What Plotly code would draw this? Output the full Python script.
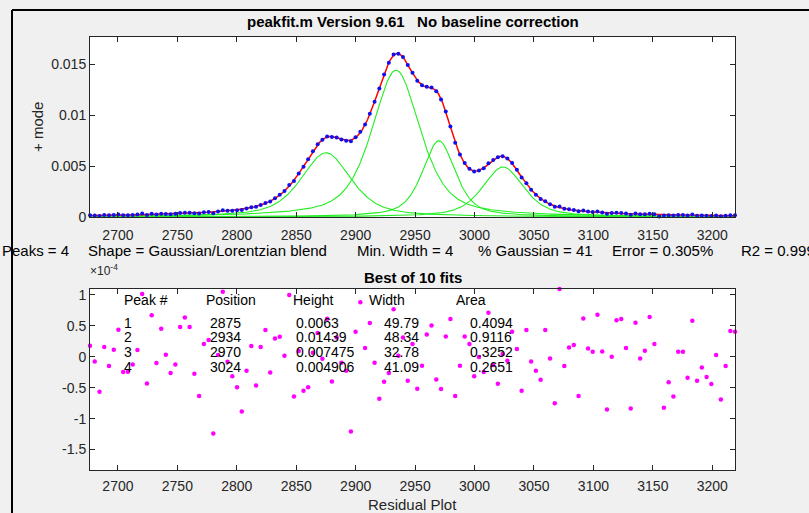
import numpy as np
import plotly.graph_objects as go

# ---------------- data ----------------
peak_num = [1, 2, 3, 4]
peak_pos = [2875, 2934, 2970, 3024]
peak_height = [0.0063, 0.01439, 0.007475, 0.004906]
peak_width = [49.79, 48.34, 32.78, 41.09]
peak_area = [0.4094, 0.9116, 0.3252, 0.2651]
pct_gauss = 41

wavenumber = [
    2676.5, 2680.5, 2684.5, 2688.5, 2692.5, 2696.5, 2700.4, 2704.4, 2708.4, 2712.4,
    2716.4, 2720.4, 2724.4, 2728.4, 2732.4, 2736.4, 2740.3, 2744.3, 2748.3, 2752.3,
    2756.3, 2760.3, 2764.3, 2768.3, 2772.3, 2776.3, 2780.2, 2784.2, 2788.2, 2792.2,
    2796.2, 2800.2, 2804.2, 2808.2, 2812.2, 2816.2, 2820.1, 2824.1, 2828.1, 2832.1,
    2836.1, 2840.1, 2844.1, 2848.1, 2852.1, 2856.1, 2860.0, 2864.0, 2868.0, 2872.0,
    2876.0, 2880.0, 2884.0, 2888.0, 2892.0, 2896.0, 2899.9, 2903.9, 2907.9, 2911.9,
    2915.9, 2919.9, 2923.9, 2927.9, 2931.9, 2935.9, 2939.8, 2943.8, 2947.8, 2951.8,
    2955.8, 2959.8, 2963.8, 2967.8, 2971.8, 2975.8, 2979.7, 2983.7, 2987.7, 2991.7,
    2995.7, 2999.7, 3003.7, 3007.7, 3011.7, 3015.7, 3019.6, 3023.6, 3027.6, 3031.6,
    3035.6, 3039.6, 3043.6, 3047.6, 3051.6, 3055.6, 3059.5, 3063.5, 3067.5, 3071.5,
    3075.5, 3079.5, 3083.5, 3087.5, 3091.5, 3095.5, 3099.4, 3103.4, 3107.4, 3111.4,
    3115.4, 3119.4, 3123.4, 3127.4, 3131.4, 3135.4, 3139.3, 3143.3, 3147.3, 3151.3,
    3155.3, 3159.3, 3163.3, 3167.3, 3171.3, 3175.3, 3179.2, 3183.2, 3187.2, 3191.2,
    3195.2, 3199.2, 3203.2, 3207.2, 3211.2, 3215.2, 3219.1,
]

# residuals in units of 1e-4
residual_e4 = [
    0.178, -0.076, -0.566, 0.156, -0.151, 0.113, 0.437, -0.248, -0.243, -0.124,
    0.108, 1.014, -0.431, 0.669, -0.102, 0.453, 0.032, -0.264, -0.124, 0.480,
    0.636, 0.480, -0.275, -0.636, 0.205, 0.270, -1.241, 0.027, 1.052, -0.081,
    -0.313, -0.491, -0.885, -0.227, 0.173, -0.464, 0.156, 0.431, -0.254, 0.297,
    0.324, 0.016, 0.998, -0.642, 0.092, -0.550, -0.491, 0.065, 0.383, -0.032,
    0.615, -0.399, 0.313, -0.097, -0.227, -1.208, 0.405, 0.879, 0.140, 0.545,
    -0.097, -0.680, -0.405, -0.264, 0.766, 0.016, 0.313, -0.388, 0.205, -0.518,
    -0.146, 0.361, 0.507, -0.367, -0.523, 0.329, 0.609, -0.636, -0.146, 0.329,
    0.205, -0.313, -0.005, -0.248, 0.712, -0.135, -0.437, 0.043, -0.065, 0.405,
    0.124, -0.550, 0.431, -0.076, -0.227, -0.372, 0.431, -0.027, -0.750, 1.095,
    -0.151, 0.151, 0.189, -0.636, 0.620, 0.135, 0.081, 0.680, 0.086, -0.852,
    0.000, 0.588, 0.609, 0.140, -0.836, 0.550, -0.027, 0.097, 0.642, 0.205,
    -1.840, -0.825, -0.410, -0.642, 0.081, 0.081, -0.340, 0.583, -0.388, -0.173,
    -0.329, -0.442, 0.027, -0.690, -0.151, 0.415, 0.405,
]

x_ticks = [2700, 2750, 2800, 2850, 2900, 2950, 3000, 3050, 3100, 3150, 3200]
y1_ticks = [0, 0.005, 0.01, 0.015]
y1_ticktext = ["0", "0.005", "0.01", "0.015"]
y2_ticks = [-1.5, -1, -0.5, 0, 0.5, 1]
y2_ticktext = ["-1.5", "-1", "-0.5", "0", "0.5", "1"]

# ---------------- peak model (Gaussian/Lorentzian blend) ----------------
def gl_blend(x, pos, height, wid, m):
    g = np.exp(-((x - pos) / (0.60056120439323 * wid)) ** 2)
    l = 1.0 / (1.0 + ((x - pos) / (0.5 * wid)) ** 2)
    return height * (m * g + (100 - m) * l) / 100.0

xw = np.array(wavenumber)
xfine = np.linspace(xw[0], xw[-1], 800)
components = [gl_blend(xfine, p, h, w, pct_gauss) for p, h, w in zip(peak_pos, peak_height, peak_width)]
model_fine = np.sum(components, axis=0)
model_at_data = np.sum([gl_blend(xw, p, h, w, pct_gauss) for p, h, w in zip(peak_pos, peak_height, peak_width)], axis=0)
observed = model_at_data + np.array(residual_e4) * 1e-4

# ---------------- figure ----------------
W, H = 809, 513
def px(x):
    return x / W
def py(y):
    return 1 - y / H

FONT = "Liberation Sans, Arial, Helvetica, sans-serif"
AX = "#262626"

fig = go.Figure()
for comp in components:
    fig.add_trace(go.Scatter(x=xfine, y=comp, mode="lines", line=dict(color="#22ee22", width=1.1),
                             xaxis="x", yaxis="y", hoverinfo="skip"))
fig.add_trace(go.Scatter(x=xfine, y=model_fine, mode="lines", line=dict(color="#ff0000", width=1.5),
                         xaxis="x", yaxis="y"))
fig.add_trace(go.Scatter(x=xw, y=observed, mode="markers", marker=dict(color="#1010ee", size=4),
                         xaxis="x", yaxis="y", cliponaxis=False))
fig.add_trace(go.Scatter(x=xw, y=residual_e4, mode="markers", marker=dict(color="#ff00ff", size=4.5),
                         xaxis="x2", yaxis="y2", cliponaxis=False))

xdom = [90 / W, 735 / W]
axis_common = dict(showline=True, linecolor=AX, linewidth=1, mirror="ticks", ticks="inside",
                   ticklen=5, tickcolor=AX, tickwidth=1, showgrid=False, zeroline=False,
                   automargin=False, tickfont=dict(family=FONT, size=14, color=AX))

fig.update_layout(
    template="none",
    width=W, height=H, autosize=False,
    margin=dict(l=0, r=0, t=0, b=0, pad=0),
    paper_bgcolor="#f0f0f0", plot_bgcolor="#ffffff",
    showlegend=False,
    xaxis=dict(domain=xdom, range=[2676.5, 3219.1], tickvals=x_ticks, anchor="y",
               ticklabelstandoff=5, **axis_common),
    yaxis=dict(domain=[py(217), py(37.3)], range=[0, 0.01762], tickvals=y1_ticks, ticktext=y1_ticktext,
               anchor="x", **axis_common),
    xaxis2=dict(domain=xdom, range=[2676.5, 3219.1], tickvals=x_ticks, anchor="y2",
                ticklabelstandoff=3, **axis_common),
    yaxis2=dict(domain=[py(470), py(289)], range=[-1.83, 1.095], tickvals=y2_ticks, ticktext=y2_ticktext,
                anchor="x2", **axis_common),
)

ann = []
def text(x, y, s, size=14, bold=False, xanchor="left", angle=0, color=AX):
    ann.append(dict(x=px(x), y=py(y), xref="paper", yref="paper", text=("<b>%s</b>" % s) if bold else s,
                    showarrow=False, xanchor=xanchor, yanchor="middle", textangle=angle,
                    font=dict(family=FONT, size=size, color=color)))

text(412.5, 21, "peakfit.m Version 9.61 &nbsp;&nbsp;No baseline correction", size=15, bold=True,
     xanchor="center", color="#000000")
text(38, 127, "+ mode", size=15, xanchor="center", angle=-90)
# info line (x-label of the upper panel)
info_parts = ["Peaks = 4", "Shape = Gaussian/Lorentzian blend", "Min. Width = 4",
              "% Gaussian = 41", "Error = 0.305%", "R2 = 0.99988"]
info_x = [0, 86, 355, 476, 610, 739]
for ix, s in zip(info_x, info_parts):
    text(ix, 250, s, size=15, color="#000000")
text(412.5, 277, "Best of 10 fits", size=15, bold=True, xanchor="center", color="#000000")
text(88, 270, "×10<sup>-4</sup>", size=12)
text(412.5, 504, "Residual Plot", size=15, xanchor="center")

# results table
col_x = [121.7, 204.3, 290.7, 366.7, 454.3]
headers = ["Peak #", "Position", "Height", "Width", "Area"]
for cx, hd in zip(col_x, headers):
    text(cx, 300, hd, color="#000000")
row_y = [322.7, 337.3, 352.0, 367.3]
for ry, n, p, h, w, a in zip(row_y, peak_num, peak_pos, peak_height, peak_width, peak_area):
    text(121.7, ry, str(n), color="#000000")
    text(208.3, ry, str(p), color="#000000")
    text(294.3, ry, str(h), color="#000000")
    text(381.7, ry, "%.2f" % w, color="#000000")
    text(467.7, ry, "%.4f" % a, color="#000000")

fig.update_layout(annotations=ann)
fig.update_layout(shapes=[
    dict(type="line", xref="paper", yref="paper", x0=px(12), x1=px(12), y0=py(10), y1=0,
         line=dict(color="#000000", width=2)),
    dict(type="line", xref="paper", yref="paper", x0=px(12), x1=1, y0=py(10), y1=py(10),
         line=dict(color="#000000", width=2)),
])

fig.write_html("out.html", config={"displayModeBar": False},
               post_script="document.body.style.margin='0';document.body.style.overflow='hidden';")
